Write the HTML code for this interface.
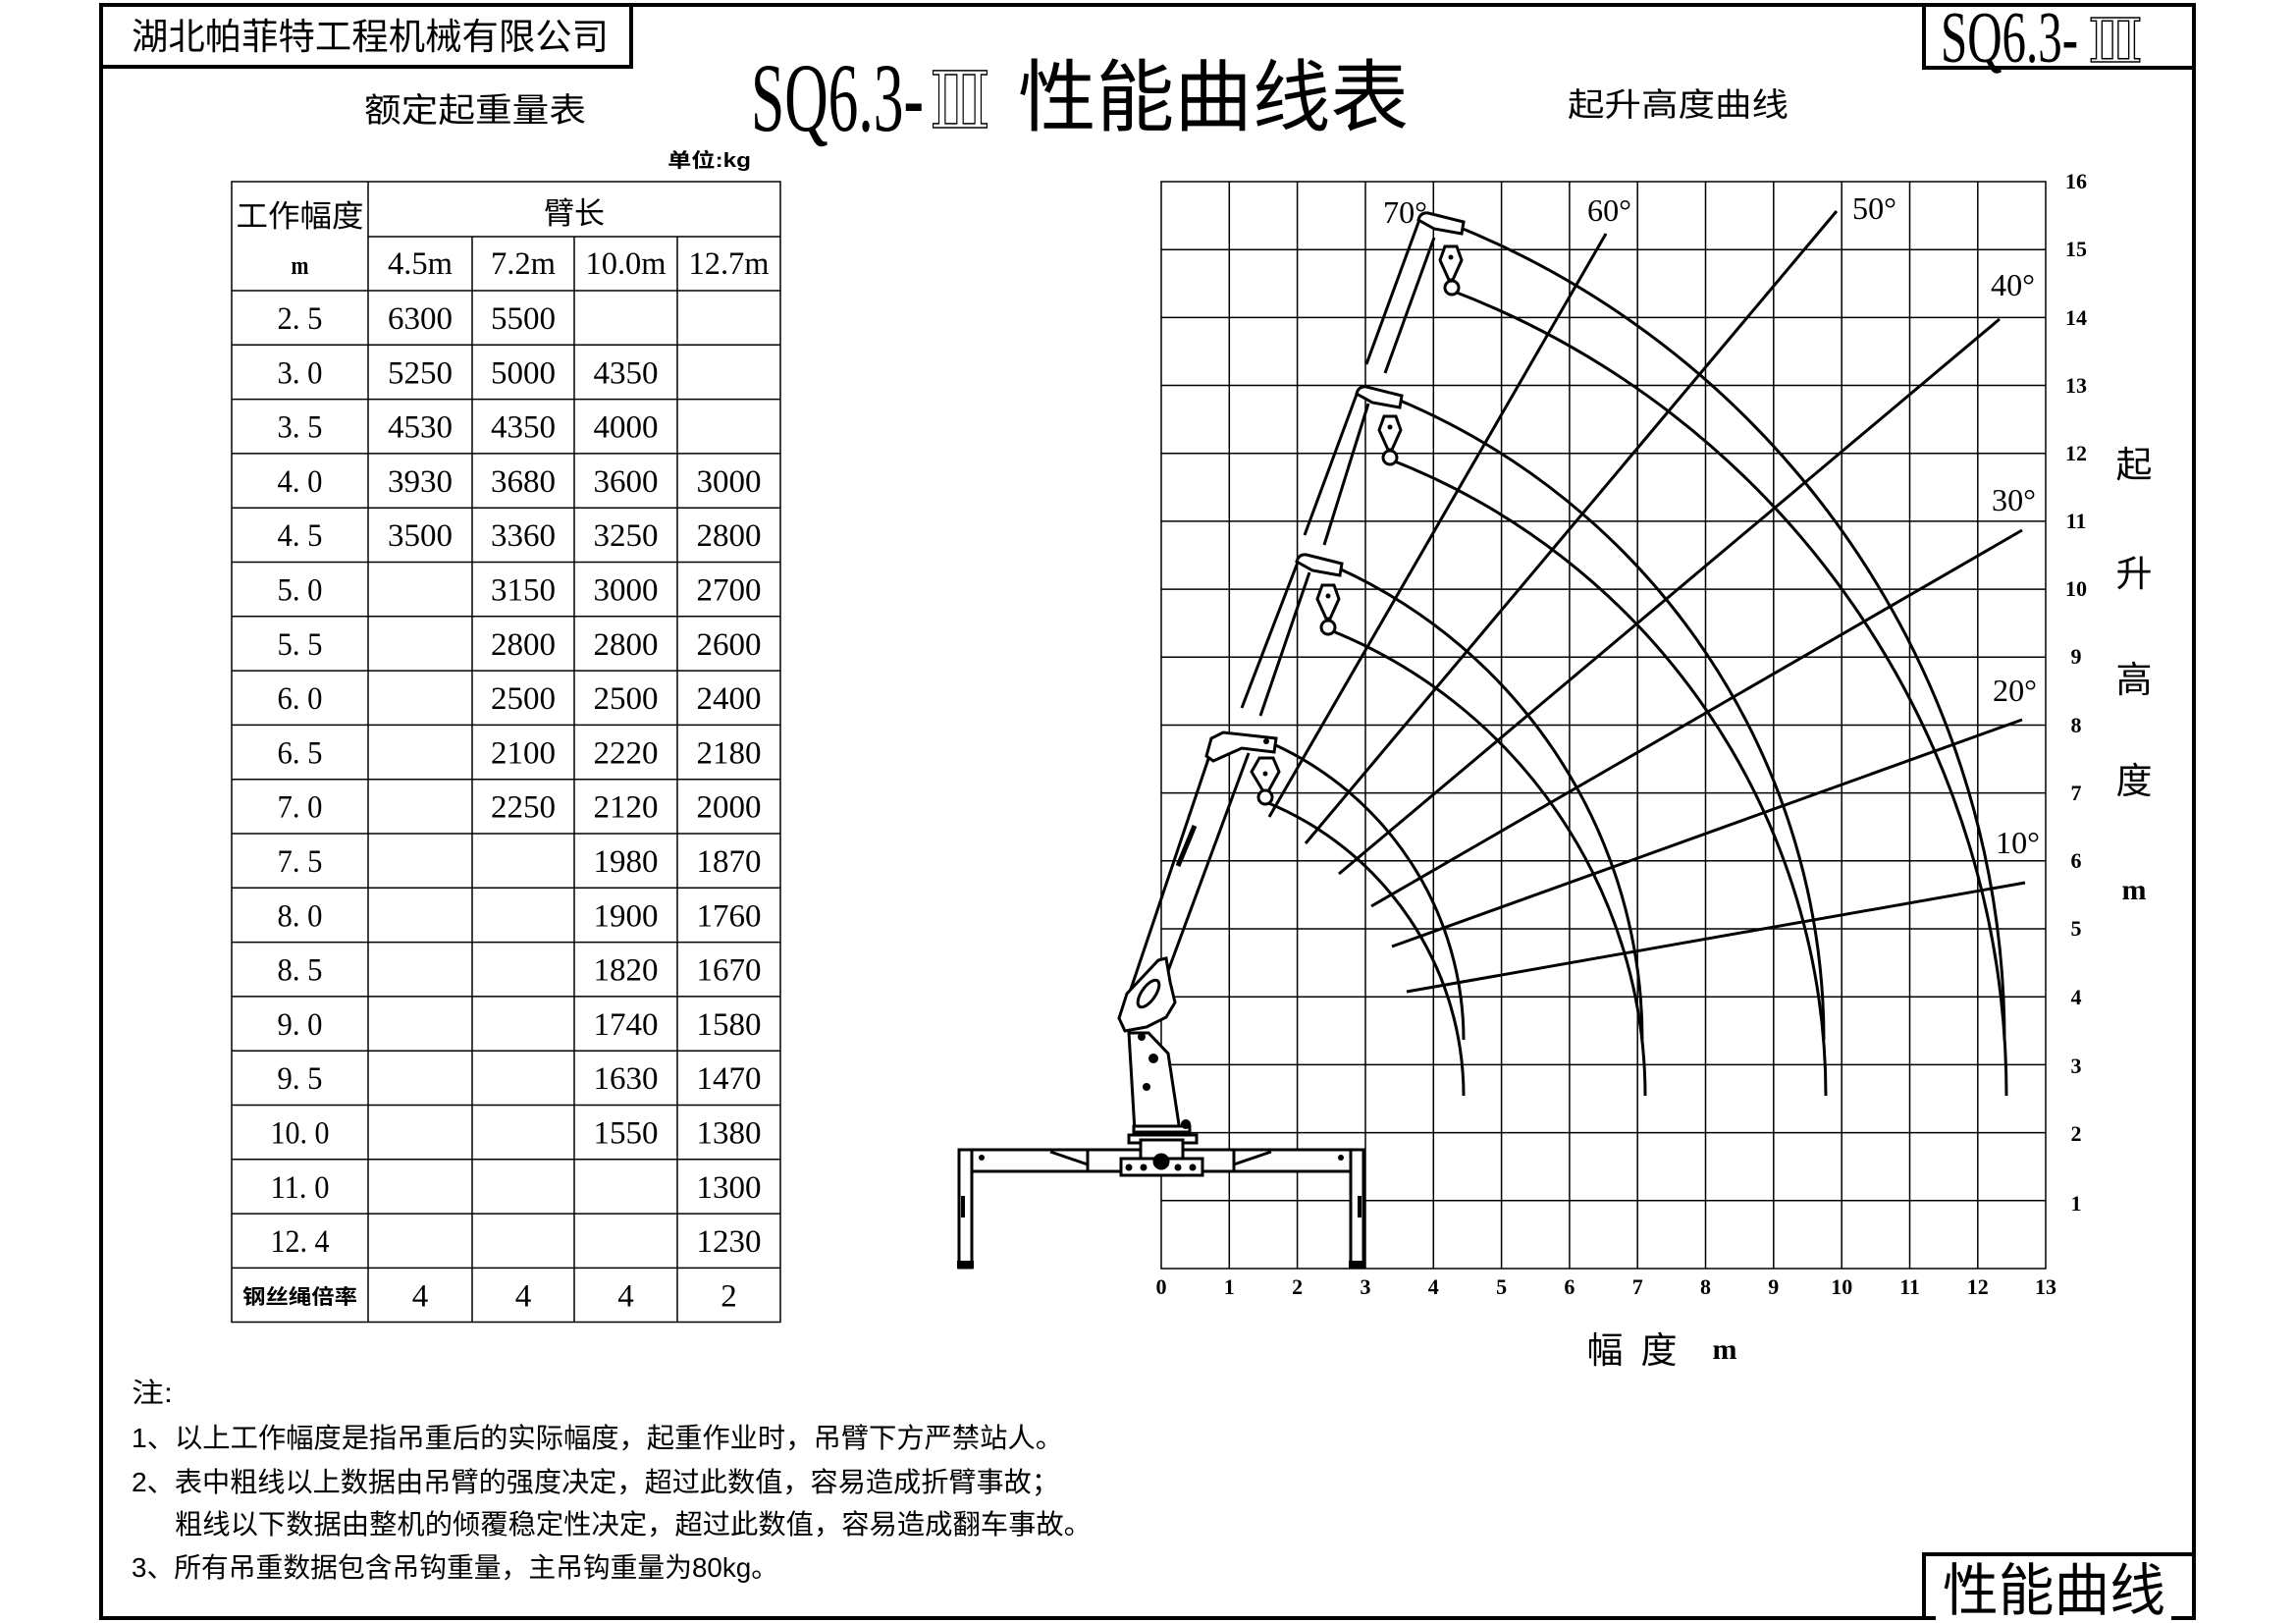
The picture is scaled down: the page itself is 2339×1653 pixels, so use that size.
<!DOCTYPE html>
<html><head><meta charset="utf-8"><style>
html,body{margin:0;padding:0;background:#fff}
svg{display:block}
.cj{font-family:"Liberation Sans","Noto Sans CJK SC",sans-serif}
.nm{font-family:"Liberation Serif","DejaVu Serif",serif}
</style></head><body>
<svg xmlns="http://www.w3.org/2000/svg" width="2339" height="1653" viewBox="0 0 2339 1653">
<rect width="2339" height="1653" fill="#fff"/>
<!-- frame -->
<rect x="103" y="5" width="2132" height="1643" fill="none" stroke="#000" stroke-width="4"/>
<rect x="103" y="5" width="540" height="63" fill="none" stroke="#000" stroke-width="4"/>
<text x="134" y="50" class="cj" font-size="37" textLength="486" lengthAdjust="spacingAndGlyphs">湖北帕菲特工程机械有限公司</text>
<rect x="1960" y="5" width="275" height="64" fill="none" stroke="#000" stroke-width="4"/>
<text x="1977" y="63" class="nm" font-size="74" textLength="140" lengthAdjust="spacingAndGlyphs">SQ6.3-</text>
<text x="2127" y="63" class="nm" font-size="62" fill="#fff" stroke="#000" stroke-width="1.5" textLength="56" lengthAdjust="spacingAndGlyphs">Ⅲ</text>
<!-- titles -->
<text x="765" y="133" class="nm" font-size="100" textLength="176" lengthAdjust="spacingAndGlyphs">SQ6.3-</text>
<text x="947" y="130" class="nm" font-size="80" fill="#fff" stroke="#000" stroke-width="1.5" textLength="62" lengthAdjust="spacingAndGlyphs">Ⅲ</text>
<text x="1037" y="127" class="cj" font-size="80" textLength="398" lengthAdjust="spacingAndGlyphs">性能曲线表</text>
<text x="371" y="124" class="cj" font-size="34" textLength="226" lengthAdjust="spacingAndGlyphs">额定起重量表</text>
<text x="680" y="170" class="cj" font-size="20" font-weight="bold" textLength="85" lengthAdjust="spacingAndGlyphs">单位:kg</text>
<text x="1597" y="118" class="cj" font-size="33" textLength="225" lengthAdjust="spacingAndGlyphs">起升高度曲线</text>

<!-- table -->
<g stroke="#000" stroke-width="1.5" fill="none">
<rect x="236" y="185" width="559" height="1161.5"/>
<line x1="375" y1="185" x2="375" y2="1346.5"/>
<line x1="481" y1="241" x2="481" y2="1346.5"/>
<line x1="585" y1="241" x2="585" y2="1346.5"/>
<line x1="690" y1="241" x2="690" y2="1346.5"/>
<line x1="375" y1="241" x2="795" y2="241"/>
<line x1="236" y1="296" x2="795" y2="296"/>
<line x1="236" y1="351.3" x2="795" y2="351.3"/>
<line x1="236" y1="406.6" x2="795" y2="406.6"/>
<line x1="236" y1="461.9" x2="795" y2="461.9"/>
<line x1="236" y1="517.2" x2="795" y2="517.2"/>
<line x1="236" y1="572.5" x2="795" y2="572.5"/>
<line x1="236" y1="627.8" x2="795" y2="627.8"/>
<line x1="236" y1="683.1" x2="795" y2="683.1"/>
<line x1="236" y1="738.4" x2="795" y2="738.4"/>
<line x1="236" y1="793.7" x2="795" y2="793.7"/>
<line x1="236" y1="849" x2="795" y2="849"/>
<line x1="236" y1="904.3" x2="795" y2="904.3"/>
<line x1="236" y1="959.6" x2="795" y2="959.6"/>
<line x1="236" y1="1014.9" x2="795" y2="1014.9"/>
<line x1="236" y1="1070.2" x2="795" y2="1070.2"/>
<line x1="236" y1="1125.5" x2="795" y2="1125.5"/>
<line x1="236" y1="1180.8" x2="795" y2="1180.8"/>
<line x1="236" y1="1236.1" x2="795" y2="1236.1"/>
<line x1="236" y1="1291.4" x2="795" y2="1291.4"/>
</g>
<g class="cj" font-size="31" text-anchor="middle">
<text x="305.5" y="231" textLength="130" lengthAdjust="spacingAndGlyphs">工作幅度</text>
<text x="585" y="228" textLength="62" lengthAdjust="spacingAndGlyphs">臂长</text>
</g>
<g class="nm" font-size="33" text-anchor="middle">
<text x="305.5" y="279" font-size="26" font-weight="bold" textLength="18" lengthAdjust="spacingAndGlyphs">m</text>
<text x="428" y="279" textLength="66" lengthAdjust="spacingAndGlyphs">4.5m</text>
<text x="533" y="279" textLength="66" lengthAdjust="spacingAndGlyphs">7.2m</text>
<text x="637.5" y="279" textLength="82" lengthAdjust="spacingAndGlyphs">10.0m</text>
<text x="742.5" y="279" textLength="82" lengthAdjust="spacingAndGlyphs">12.7m</text>
</g>
<g class="nm" font-size="33" text-anchor="middle">
<text x="305.5" y="335" textLength="46" lengthAdjust="spacingAndGlyphs">2. 5</text><text x="428" y="335">6300</text><text x="533" y="335">5500</text>
<text x="305.5" y="390.3" textLength="46" lengthAdjust="spacingAndGlyphs">3. 0</text><text x="428" y="390.3">5250</text><text x="533" y="390.3">5000</text><text x="637.5" y="390.3">4350</text>
<text x="305.5" y="445.6" textLength="46" lengthAdjust="spacingAndGlyphs">3. 5</text><text x="428" y="445.6">4530</text><text x="533" y="445.6">4350</text><text x="637.5" y="445.6">4000</text>
<text x="305.5" y="500.9" textLength="46" lengthAdjust="spacingAndGlyphs">4. 0</text><text x="428" y="500.9">3930</text><text x="533" y="500.9">3680</text><text x="637.5" y="500.9">3600</text><text x="742.5" y="500.9">3000</text>
<text x="305.5" y="556.2" textLength="46" lengthAdjust="spacingAndGlyphs">4. 5</text><text x="428" y="556.2">3500</text><text x="533" y="556.2">3360</text><text x="637.5" y="556.2">3250</text><text x="742.5" y="556.2">2800</text>
<text x="305.5" y="611.5" textLength="46" lengthAdjust="spacingAndGlyphs">5. 0</text><text x="533" y="611.5">3150</text><text x="637.5" y="611.5">3000</text><text x="742.5" y="611.5">2700</text>
<text x="305.5" y="666.8" textLength="46" lengthAdjust="spacingAndGlyphs">5. 5</text><text x="533" y="666.8">2800</text><text x="637.5" y="666.8">2800</text><text x="742.5" y="666.8">2600</text>
<text x="305.5" y="722.1" textLength="46" lengthAdjust="spacingAndGlyphs">6. 0</text><text x="533" y="722.1">2500</text><text x="637.5" y="722.1">2500</text><text x="742.5" y="722.1">2400</text>
<text x="305.5" y="777.4" textLength="46" lengthAdjust="spacingAndGlyphs">6. 5</text><text x="533" y="777.4">2100</text><text x="637.5" y="777.4">2220</text><text x="742.5" y="777.4">2180</text>
<text x="305.5" y="832.7" textLength="46" lengthAdjust="spacingAndGlyphs">7. 0</text><text x="533" y="832.7">2250</text><text x="637.5" y="832.7">2120</text><text x="742.5" y="832.7">2000</text>
<text x="305.5" y="888" textLength="46" lengthAdjust="spacingAndGlyphs">7. 5</text><text x="637.5" y="888">1980</text><text x="742.5" y="888">1870</text>
<text x="305.5" y="943.3" textLength="46" lengthAdjust="spacingAndGlyphs">8. 0</text><text x="637.5" y="943.3">1900</text><text x="742.5" y="943.3">1760</text>
<text x="305.5" y="998.6" textLength="46" lengthAdjust="spacingAndGlyphs">8. 5</text><text x="637.5" y="998.6">1820</text><text x="742.5" y="998.6">1670</text>
<text x="305.5" y="1053.9" textLength="46" lengthAdjust="spacingAndGlyphs">9. 0</text><text x="637.5" y="1053.9">1740</text><text x="742.5" y="1053.9">1580</text>
<text x="305.5" y="1109.2" textLength="46" lengthAdjust="spacingAndGlyphs">9. 5</text><text x="637.5" y="1109.2">1630</text><text x="742.5" y="1109.2">1470</text>
<text x="305.5" y="1164.5" textLength="60" lengthAdjust="spacingAndGlyphs">10. 0</text><text x="637.5" y="1164.5">1550</text><text x="742.5" y="1164.5">1380</text>
<text x="305.5" y="1219.8" textLength="60" lengthAdjust="spacingAndGlyphs">11. 0</text><text x="742.5" y="1219.8">1300</text>
<text x="305.5" y="1275.1" textLength="60" lengthAdjust="spacingAndGlyphs">12. 4</text><text x="742.5" y="1275.1">1230</text>
<text x="428" y="1330.4">4</text><text x="533" y="1330.4">4</text><text x="637.5" y="1330.4">4</text><text x="742.5" y="1330.4">2</text>
</g>
<text x="305.5" y="1328" class="cj" font-size="21" font-weight="bold" text-anchor="middle" textLength="117" lengthAdjust="spacingAndGlyphs">钢丝绳倍率</text>

<!-- notes -->
<g class="cj" font-size="28">
<text x="134" y="1428" textLength="42" lengthAdjust="spacingAndGlyphs">注:</text>
<text x="134" y="1474" textLength="949" lengthAdjust="spacingAndGlyphs">1、以上工作幅度是指吊重后的实际幅度，起重作业时，吊臂下方严禁站人。</text>
<text x="134" y="1519" textLength="945" lengthAdjust="spacingAndGlyphs">2、表中粗线以上数据由吊臂的强度决定，超过此数值，容易造成折臂事故；</text>
<text x="178" y="1562" textLength="934" lengthAdjust="spacingAndGlyphs">粗线以下数据由整机的倾覆稳定性决定，超过此数值，容易造成翻车事故。</text>
<text x="134" y="1606" textLength="659" lengthAdjust="spacingAndGlyphs">3、所有吊重数据包含吊钩重量，主吊钩重量为80kg。</text>
</g>

<!-- bottom right box -->
<polyline points="1960,1648 1960,1583 2235,1583" fill="none" stroke="#000" stroke-width="4"/>
<rect x="1972" y="1640" width="240" height="12" fill="#fff"/>
<text x="1979" y="1640" class="cj" font-size="58" textLength="227" lengthAdjust="spacingAndGlyphs">性能曲线</text>

<!-- grid -->
<g stroke="#000" stroke-width="1.5" fill="none">
<rect x="1183" y="185" width="901" height="1107"/>
<line x1="1252.3" y1="185" x2="1252.3" y2="1292"/><line x1="1321.6" y1="185" x2="1321.6" y2="1292"/>
<line x1="1391" y1="185" x2="1391" y2="1292"/><line x1="1460.3" y1="185" x2="1460.3" y2="1292"/>
<line x1="1529.6" y1="185" x2="1529.6" y2="1292"/><line x1="1598.9" y1="185" x2="1598.9" y2="1292"/>
<line x1="1668.2" y1="185" x2="1668.2" y2="1292"/><line x1="1737.5" y1="185" x2="1737.5" y2="1292"/>
<line x1="1806.8" y1="185" x2="1806.8" y2="1292"/><line x1="1876.2" y1="185" x2="1876.2" y2="1292"/>
<line x1="1945.5" y1="185" x2="1945.5" y2="1292"/><line x1="2014.8" y1="185" x2="2014.8" y2="1292"/>
<line x1="1183" y1="1222.8" x2="2084" y2="1222.8"/><line x1="1183" y1="1153.6" x2="2084" y2="1153.6"/>
<line x1="1183" y1="1084.4" x2="2084" y2="1084.4"/><line x1="1183" y1="1015.2" x2="2084" y2="1015.2"/>
<line x1="1183" y1="946" x2="2084" y2="946"/><line x1="1183" y1="876.8" x2="2084" y2="876.8"/>
<line x1="1183" y1="807.6" x2="2084" y2="807.6"/><line x1="1183" y1="738.5" x2="2084" y2="738.5"/>
<line x1="1183" y1="669.3" x2="2084" y2="669.3"/><line x1="1183" y1="600.1" x2="2084" y2="600.1"/>
<line x1="1183" y1="530.9" x2="2084" y2="530.9"/><line x1="1183" y1="461.7" x2="2084" y2="461.7"/>
<line x1="1183" y1="392.5" x2="2084" y2="392.5"/><line x1="1183" y1="323.4" x2="2084" y2="323.4"/>
<line x1="1183" y1="254.2" x2="2084" y2="254.2"/>
</g>
<!-- axis numbers -->
<g class="nm" font-size="22" font-weight="bold" text-anchor="middle">
<text x="1183" y="1318">0</text><text x="1252.3" y="1318">1</text><text x="1321.6" y="1318">2</text><text x="1391" y="1318">3</text>
<text x="1460.3" y="1318">4</text><text x="1529.6" y="1318">5</text><text x="1598.9" y="1318">6</text><text x="1668.2" y="1318">7</text>
<text x="1737.5" y="1318">8</text><text x="1806.8" y="1318">9</text><text x="1876.2" y="1318">10</text><text x="1945.5" y="1318">11</text>
<text x="2014.8" y="1318">12</text><text x="2084" y="1318">13</text>
<text x="2115" y="1233">1</text><text x="2115" y="1162">2</text><text x="2115" y="1093">3</text><text x="2115" y="1023">4</text>
<text x="2115" y="953">5</text><text x="2115" y="884">6</text><text x="2115" y="815">7</text><text x="2115" y="746">8</text>
<text x="2115" y="676">9</text><text x="2115" y="607">10</text><text x="2115" y="538">11</text><text x="2115" y="469">12</text>
<text x="2115" y="400">13</text><text x="2115" y="331">14</text><text x="2115" y="261">15</text><text x="2115" y="192">16</text>
</g>
<g class="cj" font-size="37" text-anchor="middle">
<text x="2174" y="486">起</text><text x="2174" y="597">升</text><text x="2174" y="705">高</text><text x="2174" y="808">度</text>
<text x="2174" y="916" class="nm" font-size="30" font-weight="bold">m</text>
<text x="1635" y="1388">幅</text><text x="1690" y="1388">度</text>
<text x="1757" y="1384" class="nm" font-size="30" font-weight="bold">m</text>
</g>
<!-- angle labels -->
<g class="nm" font-size="32">
<text x="1409" y="227" textLength="45" lengthAdjust="spacingAndGlyphs">70°</text>
<text x="1617" y="225" textLength="45" lengthAdjust="spacingAndGlyphs">60°</text>
<text x="1887" y="223" textLength="45" lengthAdjust="spacingAndGlyphs">50°</text>
<text x="2028" y="301" textLength="45" lengthAdjust="spacingAndGlyphs">40°</text>
<text x="2029" y="520" textLength="45" lengthAdjust="spacingAndGlyphs">30°</text>
<text x="2030" y="714" textLength="45" lengthAdjust="spacingAndGlyphs">20°</text>
<text x="2033" y="869" textLength="45" lengthAdjust="spacingAndGlyphs">10°</text>
</g>
<!-- radial lines -->
<g stroke="#000" stroke-width="3" fill="none">
<line x1="1293" y1="832" x2="1636" y2="238"/>
<line x1="1330" y1="859" x2="1871" y2="215"/>
<line x1="1364" y1="890" x2="2037" y2="325"/>
<line x1="1397" y1="923" x2="2060" y2="540"/>
<line x1="1418" y1="964" x2="2060" y2="733"/>
<line x1="1433" y1="1010" x2="2063" y2="899"/>
<!-- arcs -->
<path d="M1293,756 A331,331 0 0 1 1491,1059"/>
<path d="M1290,817 A323,323 0 0 1 1491,1116"/>
<path d="M1364,579 A527,527 0 0 1 1673,1059"/>
<path d="M1353,641 A511,511 0 0 1 1676,1116"/>
<path d="M1424,407 A707,707 0 0 1 1858,1059"/>
<path d="M1416,468 A695,695 0 0 1 1860,1116"/>
<path d="M1483,230 A894,894 0 0 1 2042,1059"/>
<path d="M1479,296 A877,877 0 0 1 2044,1116"/>
<!-- booms -->
<line x1="1392" y1="371" x2="1447" y2="221"/><line x1="1411" y1="380" x2="1461" y2="242"/>
<line x1="1329" y1="545" x2="1383" y2="399"/><line x1="1349" y1="555" x2="1394" y2="411"/>
<line x1="1265" y1="721" x2="1323" y2="570"/><line x1="1284" y1="729" x2="1334" y2="583"/>
</g>
<g stroke="#000" stroke-width="3" fill="#fff">
<path d="M1445,224 Q1447,216 1455,217 L1491,226 L1489,238 L1461,233 Z"/>
<path d="M1382,401 Q1384,393 1392,394 L1428,403 L1426,415 L1398,410 Z"/>
<path d="M1321,572 Q1323,564 1331,565 L1367,574 L1365,586 L1337,581 Z"/>
<path d="M1472,251 L1484,251 L1489,265 L1480,285 L1476,285 L1467,265 Z"/>
<path d="M1410,424 L1422,424 L1427,438 L1418,458 L1414,458 L1405,438 Z"/>
<path d="M1347,596 L1359,596 L1364,610 L1355,630 L1351,630 L1342,610 Z"/>
<circle cx="1479" cy="293" r="7"/><circle cx="1416" cy="466" r="7"/><circle cx="1353" cy="639" r="7"/>
</g>
<g fill="#000"><circle cx="1478" cy="262" r="2.5"/><circle cx="1416" cy="435" r="2.5"/><circle cx="1353" cy="607" r="2.5"/></g>

<!-- main crane -->
<g stroke="#000" stroke-width="3" fill="#fff">
<line x1="1142" y1="1037" x2="1233" y2="767"/>
<line x1="1187" y1="997" x2="1272" y2="767"/>
<line x1="1217" y1="841" x2="1200" y2="882" stroke-width="5"/>
<path d="M1229,770 L1234,752 L1246,746 L1300,752 L1298,766 L1265,762 L1236,775 Z"/>
<path d="M1283,772 L1297,772 L1303,786 L1292,806 L1287,806 L1275,786 Z"/>
<circle cx="1289" cy="812" r="7"/>
<path d="M1156,1152 L1150,1052 L1170,1052 L1190,1073 L1202,1152 Z"/>
<path d="M1140,1037 L1146,1050 L1168,1046 L1188,1036 L1197,1021 L1192,1000 L1188,976 L1180,978 L1148,1012 Z"/>
<ellipse cx="1170" cy="1012" rx="7" ry="16" transform="rotate(35 1170 1012)"/>
<rect x="1155" y="1147" width="57" height="6"/>
<rect x="1150" y="1156" width="69" height="8"/>
<rect x="977" y="1171" width="412" height="22"/>
<rect x="1108" y="1171" width="149" height="22"/>
<rect x="1162" y="1161" width="43" height="19"/>
<rect x="1142" y="1180" width="83" height="17"/>
<rect x="977" y="1171" width="13" height="120"/>
<rect x="1376" y="1171" width="13" height="120"/>
<circle cx="1183" cy="1183" r="7" fill="#000"/>
<line x1="1070" y1="1173" x2="1108" y2="1186"/>
<line x1="1257" y1="1186" x2="1295" y2="1173"/>
</g>
<g fill="#000">
<circle cx="1150" cy="1189" r="3.5"/><circle cx="1165" cy="1189" r="3.5"/><circle cx="1200" cy="1189" r="3.5"/><circle cx="1215" cy="1189" r="3.5"/>
<circle cx="1175" cy="1078" r="5"/><circle cx="1168" cy="1107" r="4"/><circle cx="1163" cy="1056" r="4"/><circle cx="1208" cy="1145" r="5"/>
<circle cx="1289" cy="788" r="2.5"/><circle cx="1290" cy="755" r="3"/>
<circle cx="1000" cy="1179" r="3"/><circle cx="1366" cy="1179" r="3"/>
<rect x="975" y="1284" width="17" height="8"/><rect x="1374" y="1284" width="17" height="8"/>
<rect x="979" y="1218" width="4" height="22"/><rect x="1383" y="1218" width="4" height="22"/>
</g>
</svg>
</body></html>
